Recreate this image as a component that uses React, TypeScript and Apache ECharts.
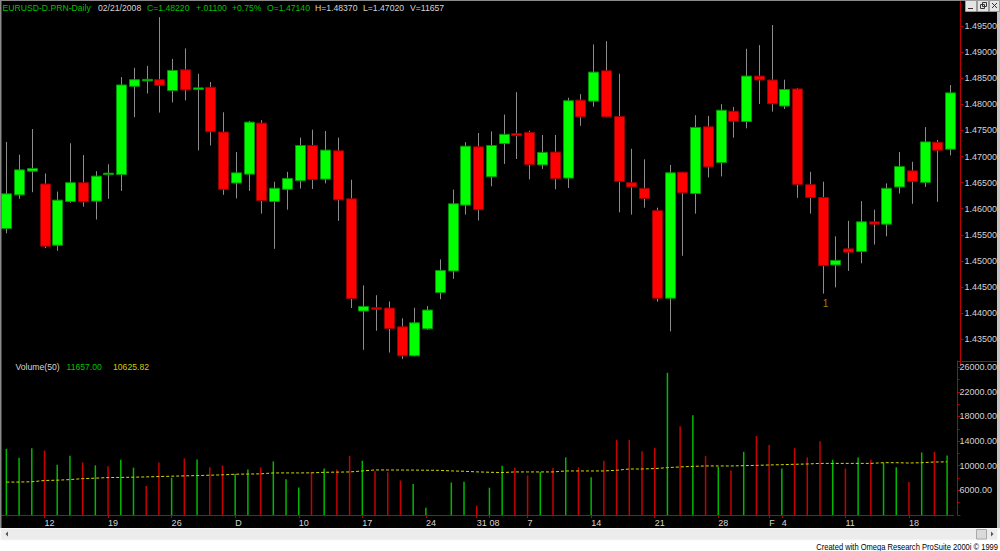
import React, { useEffect, useRef } from 'react';
import * as echarts from 'echarts';

// ---------- DATA ----------
const symbolName = 'EURUSD-D.PRN-Daily';

const dates = [
  '11/07/2007', '11/08/2007', '11/09/2007',
  '11/12/2007', '11/13/2007', '11/14/2007', '11/15/2007', '11/16/2007',
  '11/19/2007', '11/20/2007', '11/21/2007', '11/22/2007', '11/23/2007',
  '11/26/2007', '11/27/2007', '11/28/2007', '11/29/2007', '11/30/2007',
  '12/03/2007', '12/04/2007', '12/05/2007', '12/06/2007', '12/07/2007',
  '12/10/2007', '12/11/2007', '12/12/2007', '12/13/2007', '12/14/2007',
  '12/17/2007', '12/18/2007', '12/19/2007', '12/20/2007', '12/21/2007',
  '12/24/2007', '12/26/2007', '12/27/2007', '12/28/2007',
  '12/31/2007', '01/02/2008', '01/03/2008', '01/04/2008',
  '01/07/2008', '01/08/2008', '01/09/2008', '01/10/2008', '01/11/2008',
  '01/14/2008', '01/15/2008', '01/16/2008', '01/17/2008', '01/18/2008',
  '01/21/2008', '01/22/2008', '01/23/2008', '01/24/2008', '01/25/2008',
  '01/28/2008', '01/29/2008', '01/30/2008', '01/31/2008', '02/01/2008',
  '02/04/2008', '02/05/2008', '02/06/2008', '02/07/2008', '02/08/2008',
  '02/11/2008', '02/12/2008', '02/13/2008', '02/14/2008', '02/15/2008',
  '02/18/2008', '02/19/2008', '02/20/2008', '02/21/2008',
];

const openP = [
  1.45621, 1.46265, 1.46719, 1.46473, 1.45300, 1.46139, 1.46498, 1.46145, 1.46662, 1.46656,
  1.48346, 1.48454, 1.48472, 1.48264, 1.48662, 1.48290, 1.48327, 1.47469, 1.46492, 1.46662,
  1.47640, 1.46139, 1.46372, 1.46536, 1.47211, 1.46567, 1.47110, 1.46189, 1.44038, 1.44101,
  1.44095, 1.43735, 1.43180, 1.43697, 1.44391, 1.44807, 1.46069, 1.47186, 1.46612, 1.47249,
  1.47438, 1.47463, 1.46839, 1.47085, 1.46587, 1.48081, 1.48062, 1.48643, 1.47766, 1.46498,
  1.46391, 1.45962, 1.44284, 1.46700, 1.46290, 1.47570, 1.46883, 1.47868, 1.47671, 1.48542,
  1.48467, 1.47968, 1.48296, 1.46460, 1.46214, 1.44921, 1.45230, 1.45180, 1.45748, 1.45703,
  1.46416, 1.46725, 1.46504, 1.47274, 1.47140,
];
const closeP = [
  1.46284, 1.46744, 1.46769, 1.45281, 1.46164, 1.46498, 1.46132, 1.46624, 1.46681, 1.48372,
  1.48472, 1.48479, 1.48365, 1.48649, 1.48277, 1.48315, 1.47476, 1.46372, 1.46687, 1.47659,
  1.46157, 1.46391, 1.46580, 1.47211, 1.46561, 1.47123, 1.46170, 1.44278, 1.44126, 1.44076,
  1.43704, 1.43180, 1.43811, 1.44057, 1.44814, 1.46094, 1.47198, 1.45981, 1.47211, 1.47425,
  1.47400, 1.46845, 1.47078, 1.46574, 1.48069, 1.47760, 1.48618, 1.47760, 1.46523, 1.46416,
  1.46196, 1.44284, 1.46687, 1.46303, 1.47557, 1.46801, 1.47887, 1.47677, 1.48542, 1.48467,
  1.48012, 1.48284, 1.46466, 1.46214, 1.44908, 1.45009, 1.45167, 1.45748, 1.45703, 1.46391,
  1.46807, 1.46523, 1.47280, 1.47120, 1.48220,
];
const highP = [
  1.47280, 1.47034, 1.47526, 1.46675, 1.46328, 1.47255, 1.47028, 1.46719, 1.46851, 1.48523,
  1.48700, 1.48737, 1.49671, 1.48870, 1.49072, 1.48586, 1.48428, 1.47848, 1.47085, 1.47684,
  1.47697, 1.46517, 1.46706, 1.47362, 1.47514, 1.47489, 1.47362, 1.46555, 1.44530, 1.44341,
  1.44221, 1.43899, 1.44101, 1.44133, 1.45028, 1.46366, 1.47274, 1.47451, 1.47482, 1.47804,
  1.48233, 1.47495, 1.47413, 1.47413, 1.48126, 1.48195, 1.49147, 1.49211, 1.48586, 1.47148,
  1.46946, 1.46019, 1.46839, 1.46700, 1.47791, 1.47779, 1.48003, 1.47950, 1.49065, 1.49135,
  1.49520, 1.48472, 1.48315, 1.46706, 1.46517, 1.45470, 1.45766, 1.46145, 1.45981, 1.46485,
  1.47085, 1.46899, 1.47564, 1.47318, 1.48370,
];
const lowP = [
  1.45527, 1.46189, 1.46315, 1.45243, 1.45192, 1.46113, 1.46038, 1.45792, 1.46189, 1.46340,
  1.47753, 1.48208, 1.47842, 1.48037, 1.48075, 1.47116, 1.47211, 1.46265, 1.46196, 1.46340,
  1.45905, 1.45230, 1.45981, 1.46385, 1.46378, 1.46485, 1.45766, 1.44095, 1.43294, 1.43660,
  1.43243, 1.43117, 1.43167, 1.43678, 1.44265, 1.44656, 1.45886, 1.45773, 1.46429, 1.46858,
  1.46952, 1.46561, 1.46763, 1.46372, 1.46397, 1.47589, 1.47955, 1.47748, 1.45930, 1.45886,
  1.46019, 1.44215, 1.43647, 1.45098, 1.45905, 1.46599, 1.46618, 1.47362, 1.47540, 1.48005,
  1.47861, 1.47911, 1.46208, 1.45905, 1.44372, 1.44492, 1.44807, 1.44953, 1.45312, 1.45470,
  1.46290, 1.46094, 1.46416, 1.46132, 1.47020,
];

const volume = [
  12740, 11290, 12840, 12470, 10170, 11610, 10540, 10060, 9900, 10970,
  9690, 6700, 10540, 8030, 11190, 11030, 9740, 10060, 8670, 9370,
  9740, 10700, 7820, 6480, 8990, 9530, 9370, 11610, 10810, 9100,
  8940, 7600, 7020, 3170, 1900, 7280, 7390, 3540, 6430, 10010,
  9690, 8410, 8990, 9640, 11350, 9740, 8140, 10810, 14180, 14180,
  12360, 12900, 25090, 16420, 18190, 11560, 9800, 9210, 12260, 14820,
  13380, 9530, 12840, 11350, 13970, 10970, 9530, 11350, 10970, 10490,
  9740, 7340, 12150, 12260, 11657,
];
// 1 = up-volume (green), 0 = down-volume (red)
const volumeUp = [
  1, 1, 1, 0, 1, 1, 0, 1, 0, 1,
  1, 0, 0, 1, 0, 1, 0, 0, 1, 1,
  0, 1, 1, 1, 0, 1, 0, 0, 1, 0,
  0, 0, 1, 1, 1, 1, 1, 0, 1, 1,
  0, 0, 1, 0, 1, 0, 1, 0, 0, 0,
  0, 0, 1, 0, 1, 0, 1, 0, 1, 0,
  0, 1, 0, 0, 0, 1, 0, 1, 0, 1,
  1, 0, 1, 0, 1,
];
const volumeAvg50 = [
  7340, 7350, 7400, 7600, 7650, 7750, 7900, 7980, 8080, 8100,
  8140, 8180, 8240, 8300, 8350, 8400, 8460, 8520, 8620, 8650,
  8680, 8830, 8830, 8830, 8840, 8930, 8960, 8990, 9150, 9310,
  9310, 9300, 9290, 9270, 9250, 9160, 9100, 9000, 8940, 8890,
  8990, 8990, 8990, 8990, 9150, 9150, 9150, 9150, 9260, 9470,
  9470, 9530, 9690, 9800, 9900, 9960, 9960, 9960, 10010, 10060,
  10120, 10170, 10230, 10280, 10380, 10380, 10380, 10380, 10380, 10490,
  10490, 10440, 10490, 10600, 10625.82,
];

// date-axis tick labels: [bar index, label]
const dateTickLabels: [number, string][] = [
  [3, '12'], [8, '19'], [13, '26'], [18, 'D'], [23, '10'], [28, '17'], [33, '24'],
  [37, '31'], [38, '08'], [41, '7'], [46, '14'], [51, '21'], [56, '28'], [60, 'F'],
  [61, '4'], [66, '11'], [71, '18'],
];

const priceAxisMin = 1.43;
const priceAxisMax = 1.5;
const priceAxisStep = 0.005;
const volAxisMin = 2000;
const volAxisMax = 27000;
const volAxisStep = 4000;

// pattern marker drawn under a bar
const signalMarks = [{ index: 64, price: 1.44177, text: '1' }];

// ---------- STYLE ----------
const FONT = "'Liberation Sans', Arial, sans-serif";
const RED_AXIS = '#c00000';
const LABEL_GRAY = '#d4d4d4';
const TXT_GREEN = '#00c000';
const TXT_YELLOW = '#cccc00';

function buildOption(): any {
  const n = dates.length;
  const labelMap = new Map<number, string>(dateTickLabels);
  const candleData = dates.map((_, i) => [i, openP[i], closeP[i], lowP[i], highP[i]]);

  const lastC = closeP[n - 1];
  const prevC = closeP[n - 2];
  const chg = lastC - prevC;
  const chgStr = (chg >= 0 ? '+' : '-') + Math.abs(chg).toFixed(5).replace(/^0/, '');
  const pctStr = (chg >= 0 ? '+' : '-') + Math.abs((chg / prevC) * 100).toFixed(2) + '%';

  const headerPieces = [
    { x: 2.5, text: symbolName, color: TXT_GREEN },
    { x: 98, text: dates[n - 1], color: LABEL_GRAY },
    { x: 147, text: 'C=' + lastC.toFixed(5), color: TXT_GREEN },
    { x: 196, text: chgStr, color: TXT_GREEN },
    { x: 232, text: pctStr, color: TXT_GREEN },
    { x: 267, text: 'O=' + openP[n - 1].toFixed(5), color: TXT_GREEN },
    { x: 315, text: 'H=' + highP[n - 1].toFixed(5), color: LABEL_GRAY },
    { x: 363, text: 'L=' + lowP[n - 1].toFixed(5), color: LABEL_GRAY },
    { x: 410, text: 'V=' + volume[n - 1], color: LABEL_GRAY },
  ];
  const volPieces = [
    { x: 15.5, text: 'Volume(50)', color: LABEL_GRAY },
    { x: 66.5, text: volume[n - 1].toFixed(2), color: TXT_GREEN },
    { x: 113, text: volumeAvg50[n - 1].toFixed(2), color: TXT_YELLOW },
  ];
  const textEl = (p: any, y: number, sx = 0.96) => ({
    type: 'text',
    x: p.x,
    y,
    scaleX: sx,
    z: 50,
    style: {
      text: p.text,
      fill: p.color,
      font: `9px ${FONT}`,
      textVerticalAlign: 'middle',
      verticalAlign: 'middle',
    },
  });

  const graphic: any[] = [
    ...headerPieces.map((p) => textEl(p, 7.5)),
    ...volPieces.map((p) => textEl(p, 366.5)),
    // separator between price and volume scales
    { type: 'line', z: 60, shape: { x1: 962, y1: 361.5, x2: 1000, y2: 361.5 }, style: { stroke: RED_AXIS, lineWidth: 1 } },
    // window frame
    { type: 'rect', z: 80, shape: { x: 0, y: 0, width: 1000, height: 1 }, style: { fill: '#8a8a8a' } },
    { type: 'rect', z: 80, shape: { x: 0, y: 0, width: 1.5, height: 529 }, style: { fill: '#8a8a8a' } },
    { type: 'rect', z: 80, shape: { x: 997, y: 0, width: 3, height: 529 }, style: { fill: '#c4c4c4' } },
    // window buttons
    { type: 'rect', z: 81, shape: { x: 965.5, y: 0.5, width: 11, height: 11 }, style: { fill: '#e4e4e4', stroke: '#9a9a9a', lineWidth: 1 } },
    { type: 'rect', z: 81, shape: { x: 977.5, y: 0.5, width: 11, height: 11 }, style: { fill: '#e4e4e4', stroke: '#9a9a9a', lineWidth: 1 } },
    { type: 'rect', z: 81, shape: { x: 989.5, y: 0.5, width: 10, height: 11 }, style: { fill: '#e4e4e4', stroke: '#9a9a9a', lineWidth: 1 } },
    { type: 'line', z: 82, shape: { x1: 968, y1: 8.5, x2: 973, y2: 8.5 }, style: { stroke: '#333', lineWidth: 1 } },
    { type: 'rect', z: 82, shape: { x: 980.5, y: 4.5, width: 4, height: 4 }, style: { fill: 'none', stroke: '#333', lineWidth: 1 } },
    { type: 'rect', z: 82, shape: { x: 982.5, y: 2.5, width: 4, height: 4 }, style: { fill: 'none', stroke: '#333', lineWidth: 1 } },
    { type: 'line', z: 82, shape: { x1: 992, y1: 3, x2: 997, y2: 8 }, style: { stroke: '#333', lineWidth: 1 } },
    { type: 'line', z: 82, shape: { x1: 997, y1: 3, x2: 992, y2: 8 }, style: { stroke: '#333', lineWidth: 1 } },
    // bottom strip (scrollbar + credits)
    { type: 'rect', z: 80, shape: { x: 0, y: 528, width: 1000, height: 23 }, style: { fill: '#ffffff' } },
    { type: 'rect', z: 81, shape: { x: 0.5, y: 528.5, width: 997, height: 11.5 }, style: { fill: '#ececec', stroke: '#f8f8f8', lineWidth: 1 } },
    { type: 'polygon', z: 82, shape: { points: [[8, 531.5], [8, 536.5], [5.5, 534]] }, style: { fill: '#555' } },
    { type: 'rect', z: 82, shape: { x: 976.5, y: 529.5, width: 10, height: 9.5 }, style: { fill: '#dadada', stroke: '#a8a8a8', lineWidth: 1 } },
    { type: 'polygon', z: 82, shape: { points: [[991, 531.5], [991, 536.5], [993.5, 534]] }, style: { fill: '#555' } },
    {
      type: 'text',
      z: 82,
      x: 998,
      y: 546.5,
      scaleX: 0.84,
      style: {
        text: 'Created with Omega Research ProSuite 2000i \u00A9 1999',
        fill: '#000',
        font: `9px ${FONT}`,
        textAlign: 'right',
        align: 'right',
        textVerticalAlign: 'middle',
        verticalAlign: 'middle',
      },
    },
  ];

  const renderCandle = (params: any, api: any) => {
    const i = api.value(0);
    const o = api.value(1);
    const c = api.value(2);
    const l = api.value(3);
    const h = api.value(4);
    const pO = api.coord([i, o]);
    const pC = api.coord([i, c]);
    const pH = api.coord([i, h]);
    const pL = api.coord([i, l]);
    const band = api.size([1, 0])[0];
    const w = Math.round(band * 0.78);
    const cx = Math.round(pO[0]);
    const up = c >= o;
    const top = Math.min(pO[1], pC[1]);
    const bot = Math.max(pO[1], pC[1]);
    return {
      type: 'group',
      children: [
        {
          type: 'line',
          shape: { x1: cx + 0.5, y1: pH[1], x2: cx + 0.5, y2: pL[1] },
          style: { stroke: '#8c8c8c', lineWidth: 1 },
        },
        {
          type: 'rect',
          shape: { x: cx - w / 2 + 0.5, y: top, width: w, height: Math.max(bot - top, 1.5) },
          style: {
            fill: up ? '#00ff00' : '#ff0000',
            stroke: up ? '#009600' : '#9a0000',
            lineWidth: 1,
          },
        },
      ],
    };
  };

  return {
    animation: false,
    backgroundColor: '#000000',
    textStyle: { fontFamily: FONT },
    graphic,
    grid: [
      { left: 0, right: 42, top: -4.72, height: 369.9 },
      { left: 0, right: 42, top: 361, height: 154 },
    ],
    xAxis: [
      { type: 'category', gridIndex: 0, data: dates, boundaryGap: true, show: false },
      {
        type: 'category',
        gridIndex: 1,
        data: dates,
        boundaryGap: true,
        axisLine: { show: true, lineStyle: { color: RED_AXIS, width: 1 } },
        axisTick: {
          show: true,
          alignWithLabel: true,
          interval: (idx: number) => labelMap.has(idx),
          length: 3,
          lineStyle: { color: RED_AXIS },
        },
        axisLabel: {
          interval: (idx: number) => labelMap.has(idx),
          formatter: (_v: string, idx: number) => labelMap.get(idx) ?? '',
          color: LABEL_GRAY,
          fontSize: 9,
          fontFamily: FONT,
          align: 'left',
          margin: 3,
        },
        splitLine: { show: false },
      },
    ],
    yAxis: [
      {
        type: 'value',
        gridIndex: 0,
        position: 'right',
        offset: 4,
        min: priceAxisMin,
        max: priceAxisMax,
        interval: priceAxisStep,
        scale: true,
        splitLine: { show: false },
        axisLine: { show: true, lineStyle: { color: RED_AXIS, width: 1 } },
        axisTick: { show: true, length: 3, lineStyle: { color: RED_AXIS } },
        axisLabel: {
          formatter: (v: number) => v.toFixed(5),
          color: LABEL_GRAY,
          fontSize: 9,
          fontFamily: FONT,
          margin: 4,
          showMinLabel: false,
          showMaxLabel: false,
        },
      },
      {
        type: 'value',
        gridIndex: 1,
        position: 'right',
        offset: 4,
        min: volAxisMin,
        max: volAxisMax,
        interval: volAxisStep,
        splitLine: { show: false },
        axisLine: { show: true, lineStyle: { color: RED_AXIS, width: 1 } },
        axisTick: { show: true, length: 3, lineStyle: { color: RED_AXIS } },
        minorTick: { show: true, splitNumber: 2, length: 2, lineStyle: { color: RED_AXIS } },
        axisLabel: {
          formatter: (v: number) => v.toFixed(2),
          color: LABEL_GRAY,
          fontSize: 9,
          fontFamily: FONT,
          margin: 2,
          showMinLabel: false,
          showMaxLabel: false,
        },
      },
    ],
    series: [
      {
        type: 'custom',
        name: 'Price',
        xAxisIndex: 0,
        yAxisIndex: 0,
        data: candleData,
        encode: { x: 0, y: [1, 2, 3, 4] },
        renderItem: renderCandle,
        clip: true,
        z: 2,
      },
      {
        type: 'scatter',
        xAxisIndex: 0,
        yAxisIndex: 0,
        data: signalMarks.map((m) => ({ value: [m.index, m.price], label: { formatter: m.text } })),
        symbol: 'circle',
        symbolSize: 1,
        itemStyle: { color: 'rgba(0,0,0,0)' },
        label: { show: true, position: 'inside', offset: [3, 0], color: '#b0b000', fontSize: 10, fontFamily: FONT },
        silent: true,
        z: 3,
      },
      {
        type: 'bar',
        name: 'Volume',
        xAxisIndex: 1,
        yAxisIndex: 1,
        data: volume.map((v, i) => ({
          value: v,
          itemStyle: { color: volumeUp[i] ? '#00b800' : '#c80000' },
        })),
        barWidth: 1.5,
        clip: true,
        z: 2,
      },
      {
        type: 'line',
        name: 'Volume(50)',
        xAxisIndex: 1,
        yAxisIndex: 1,
        data: volumeAvg50,
        symbol: 'none',
        lineStyle: { color: '#d8d800', width: 1, type: [3, 2] },
        z: 3,
      },
    ],
  };
}

export default function App() {
  const ref = useRef<HTMLDivElement>(null);
  useEffect(() => {
    if (!ref.current) return;
    const chart = echarts.init(ref.current, undefined, { renderer: 'svg' });
    chart.setOption(buildOption());
    return () => chart.dispose();
  }, []);
  return (
    <div
      ref={ref}
      style={{ position: 'fixed', left: 0, top: 0, width: 1000, height: 551, background: '#000' }}
    />
  );
}
